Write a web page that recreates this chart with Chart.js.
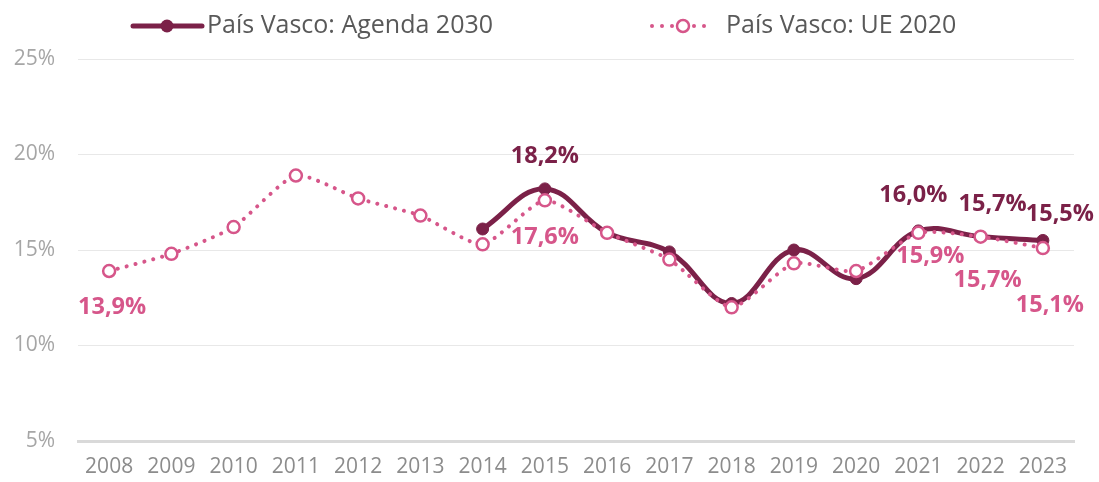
<!DOCTYPE html>
<html>
<head>
<meta charset="utf-8">
<script src="https://cdn.jsdelivr.net/npm/chart.js@4/dist/chart.umd.min.js"></script>
<style>
  html, body { margin: 0; padding: 0; background: #fff; }
  #wrap { width: 1099px; height: 482px; position: relative; }
</style>
</head>
<body>
<div id="wrap"><canvas id="chart"></canvas></div>
<script>
// Datos
const years = ['2008','2009','2010','2011','2012','2013','2014','2015','2016','2017','2018','2019','2020','2021','2022','2023'];
const agenda2030 = [null, null, null, null, null, null, 16.1, 18.2, 15.9, 14.9, 12.2, 15.0, 13.5, 16.0, 15.7, 15.5];
const ue2020 = [13.9, 14.8, 16.2, 18.9, 17.7, 16.8, 15.3, 17.6, 15.9, 14.5, 12.0, 14.3, 13.9, 15.9, 15.7, 15.1];
const yTicks = [5, 10, 15, 20, 25];

const labelsAgenda = ['2015', '2021', '2022', '2023'];
const labelsUE = ['2008', '2015', '2021', '2022', '2023'];

const DARK = '#7B2148';
const PINK = '#D6568A';

// desplazamiento de las etiquetas (px) respecto al punto
const offsetsAgenda = { '2015': [0, -33], '2021': [-5, -36], '2022': [12, -32], '2023': [17, -26] };
const offsetsUE = { '2008': [3, 36], '2015': [0, 37], '2021': [12, 24], '2022': [7, 44], '2023': [7, 57] };

const fmt = v => v.toFixed(1).replace('.', ',') + '%';

const dataLabels = {
    id: 'dataLabels',
    afterDatasetsDraw(chart) {
        const ctx = chart.ctx;
        ctx.save();
        ctx.font = 'bold 23.5px "Open Sans", sans-serif';
        ctx.textAlign = 'center';
        ctx.textBaseline = 'middle';
        const draw = (dsIndex, list, offsets, color) => {
            const meta = chart.getDatasetMeta(dsIndex);
            const values = chart.data.datasets[dsIndex].data;
            ctx.fillStyle = color;
            list.forEach(year => {
                const i = years.indexOf(year);
                const pt = meta.data[i];
                const [dx, dy] = offsets[year];
                ctx.fillText(fmt(values[i]), pt.x + dx, pt.y + dy);
            });
        };
        draw(0, labelsAgenda, offsetsAgenda, DARK);
        draw(1, labelsUE, offsetsUE, PINK);
        ctx.restore();
    }
};

const customLegend = {
    id: 'customLegend',
    afterDraw(chart) {
        const ctx = chart.ctx;
        ctx.save();
        const y = 26;
        // Agenda 2030
        ctx.strokeStyle = DARK;
        ctx.lineWidth = 5;
        ctx.lineCap = 'round';
        ctx.beginPath(); ctx.moveTo(133, y); ctx.lineTo(202, y); ctx.stroke();
        ctx.fillStyle = DARK;
        ctx.beginPath(); ctx.arc(167, y, 6.5, 0, Math.PI * 2); ctx.fill();
        // UE 2020
        ctx.fillStyle = PINK;
        [652, 662, 672, 694, 704].forEach(x => {
            ctx.beginPath(); ctx.arc(x, y, 2, 0, Math.PI * 2); ctx.fill();
        });
        ctx.strokeStyle = PINK;
        ctx.lineWidth = 2.5;
        ctx.fillStyle = '#fff';
        ctx.beginPath(); ctx.arc(683, y, 6, 0, Math.PI * 2); ctx.fill(); ctx.stroke();
        // textos
        ctx.fillStyle = '#595959';
        ctx.font = '25px "Open Sans", sans-serif';
        ctx.textBaseline = 'middle';
        ctx.textAlign = 'left';
        ctx.fillText('País Vasco: Agenda 2030', 207, y);
        ctx.fillText('País Vasco: UE 2020', 726, y);
        ctx.restore();
    }
};

new Chart(document.getElementById('chart'), {
    type: 'line',
    data: {
        labels: years,
        datasets: [
            {
                label: 'País Vasco: Agenda 2030',
                data: agenda2030,
                borderColor: DARK,
                backgroundColor: DARK,
                borderWidth: 5,
                tension: 0.4,
                pointRadius: 6,
                pointHoverRadius: 6,
                pointBackgroundColor: DARK,
                pointBorderColor: DARK,
                pointBorderWidth: 1,
                order: 2
            },
            {
                label: 'País Vasco: UE 2020',
                data: ue2020,
                borderColor: PINK,
                backgroundColor: '#fff',
                borderWidth: 4,
                borderDash: [0.1, 9],
                borderCapStyle: 'round',
                tension: 0.2,
                pointRadius: 6,
                pointHoverRadius: 6,
                pointBackgroundColor: '#fff',
                pointBorderColor: PINK,
                pointBorderWidth: 2.5,
                order: 1
            }
        ]
    },
    options: {
        responsive: true,
        maintainAspectRatio: false,
        animation: false,
        layout: { padding: { top: 59, right: 25, bottom: 3, left: 0 } },
        plugins: {
            legend: { display: false },
            tooltip: { enabled: false }
        },
        scales: {
            x: {
                offset: true,
                afterFit: axis => { axis.height = 38; },
                grid: { display: false, drawTicks: false },
                border: { color: '#d9d9d9', width: 3 },
                ticks: {
                    color: '#8c8c8c',
                    font: { family: '"Open Sans", sans-serif', size: 21 },
                    padding: 13,
                    maxRotation: 0
                }
            },
            y: {
                min: 5,
                max: 25,
                afterBuildTicks: axis => { axis.ticks = yTicks.map(v => ({ value: v })); },
                afterFit: axis => { axis.width = 78; },
                grid: {
                    color: ctx => ctx.tick && ctx.tick.value === 5 ? '#d9d9d9' : '#e8e8e8',
                    lineWidth: ctx => ctx.tick && ctx.tick.value === 5 ? 3 : 1,
                    drawTicks: false
                },
                border: { display: false },
                ticks: {
                    color: '#a6a6a6',
                    font: { family: '"Open Sans", sans-serif', size: 21 },
                    padding: 23,
                    callback: v => v + '%'
                }
            }
        }
    },
    plugins: [dataLabels, customLegend]
});
</script>
</body>
</html>
